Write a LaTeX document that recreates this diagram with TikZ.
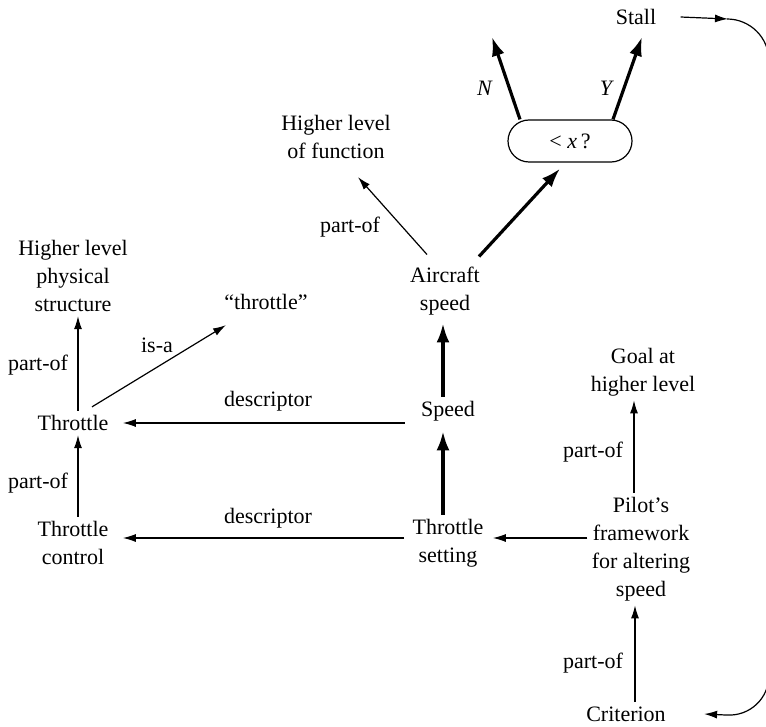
\documentclass[tikz,border=0pt]{standalone}
\usepackage{fontspec}
\setmainfont{Liberation Serif}
\usetikzlibrary{arrows.meta}
\usetikzlibrary{calc}
\tikzset{
    cfarrow/.style={-{Latex[length=6.5pt,width=4pt]}, line width=0.6pt},
    cfthick/.style={-{Latex[length=9.5pt,width=6.5pt]}, line width=1.6pt},
    cfnode/.style={align=center, inner sep=2pt, font=\fontsize{11}{14}\selectfont}
}

\begin{document}
\begin{tikzpicture}[x=0.5pt,y=-0.5pt]
    \useasboundingbox (0,0) rectangle (766,727);

    \node[cfnode] (stall) at (636,17) {Stall};
    \node[cfnode, draw, line width=0.6pt, rounded corners=10.5pt,
          minimum width=62pt, minimum height=21pt] (test) at (570,141) {< \textit{x}\,?};
    \coordinate (nout) at (492,37);
    \coordinate (yout) at (642,37);
    \coordinate (loopin) at (728,19);

    \node[cfnode] (hlf) at (336,137) {Higher level\\of function};
    \node[cfnode] (air) at (445,291) {Aircraft\\speed};
    \node[cfnode] (speed) at (448,411) {Speed};

    \node[cfnode] (hlps) at (73,276) {Higher level\\physical\\structure};
    \node[cfnode] (quote) at (266,302) {“throttle”};
    \node[cfnode] (thr) at (73,423) {Throttle};
    \node[cfnode] (tc) at (73,543) {Throttle\\control};
    \node[cfnode] (ts) at (448,543) {Throttle\\setting};

    \node[cfnode] (goal) at (643,372) {Goal at\\higher level};
    \node[cfnode] (pilot) at (641,549) {Pilot’s\\framework\\for altering\\speed};
    \node[cfnode] (crit) at (626,714) {Criterion};

    % test outcomes
    \draw[cfthick] ($(test.north)+(-50,0)$) -- (nout);
    \draw[cfthick] ($(test.north)+(43,0)$) -- (yout);
    \node[cfnode] (nlab) at (485,88) {\textit{N}};
    \node[cfnode] (ylab) at (607,88) {\textit{Y}};

    % loop from Stall back to Criterion
    \draw[cfarrow] ([xshift=10pt]stall.east) -- (loopin);
    \draw[cfarrow, rounded corners=21pt] (loopin) -- (769,19) -- (769,717) -- ([xshift=17pt]crit.east);

    \draw[cfthick] ([xshift=17pt,yshift=3pt]air.north) -- ([xshift=-5pt,yshift=-3pt]test.south);
    \draw[cfarrow] ([xshift=-9pt,yshift=4pt]air.north) -- ([xshift=11pt,yshift=-7pt]hlf.south);
    \node[cfnode] (lab1) at (350,227) {part-of};

    \draw[cfthick] ([xshift=-2.5pt]speed.north) -- ([xshift=-2.5pt,yshift=-2pt]speed.north |- air.south);
    \draw[cfthick] ([xshift=-2.5pt]speed.south |- ts.north) -- ([xshift=-2.5pt,yshift=-3pt]speed.south);

    \draw[cfarrow] ([xshift=-6pt]speed.west |- thr.east) -- ([xshift=5pt]thr.east);
    \node[cfnode] (lab2) at (268,401) {descriptor};
    \draw[cfarrow] ([xshift=-2pt,yshift=2.5pt]ts.west) -- ([xshift=5pt,yshift=2.5pt]ts.west -| tc.east);
    \node[cfnode] (lab3) at (268,518) {descriptor};
    \draw[cfarrow] ([yshift=2.5pt]pilot.west |- ts.east) -- ([xshift=2.5pt,yshift=2.5pt]ts.east);

    \draw[cfarrow] ([xshift=2.5pt]thr.north) -- ([xshift=2.5pt]hlps.south);
    \node[cfnode] (lab4) at (38,365) {part-of};
    \draw[cfarrow] ([xshift=2.5pt]tc.north) -- ([xshift=2.5pt]thr.south);
    \node[cfnode] (lab5) at (38,483) {part-of};
    \draw[cfarrow] ([xshift=9.5pt,yshift=2pt]thr.north) -- ([xshift=-20pt,yshift=-5.5pt]quote.south);
    \node[cfnode] (lab6) at (157,345) {is-a};

    \draw[cfarrow] ([xshift=-3.5pt]pilot.north) -- ([xshift=-3.5pt]pilot.north |- goal.south);
    \node[cfnode] (lab7) at (593,452) {part-of};
    \draw[cfarrow] ([xshift=4.5pt]crit.north) -- ([xshift=4.5pt]crit.north |- pilot.south);
    \node[cfnode] (lab8) at (593,663) {part-of};
\end{tikzpicture}
\end{document}
